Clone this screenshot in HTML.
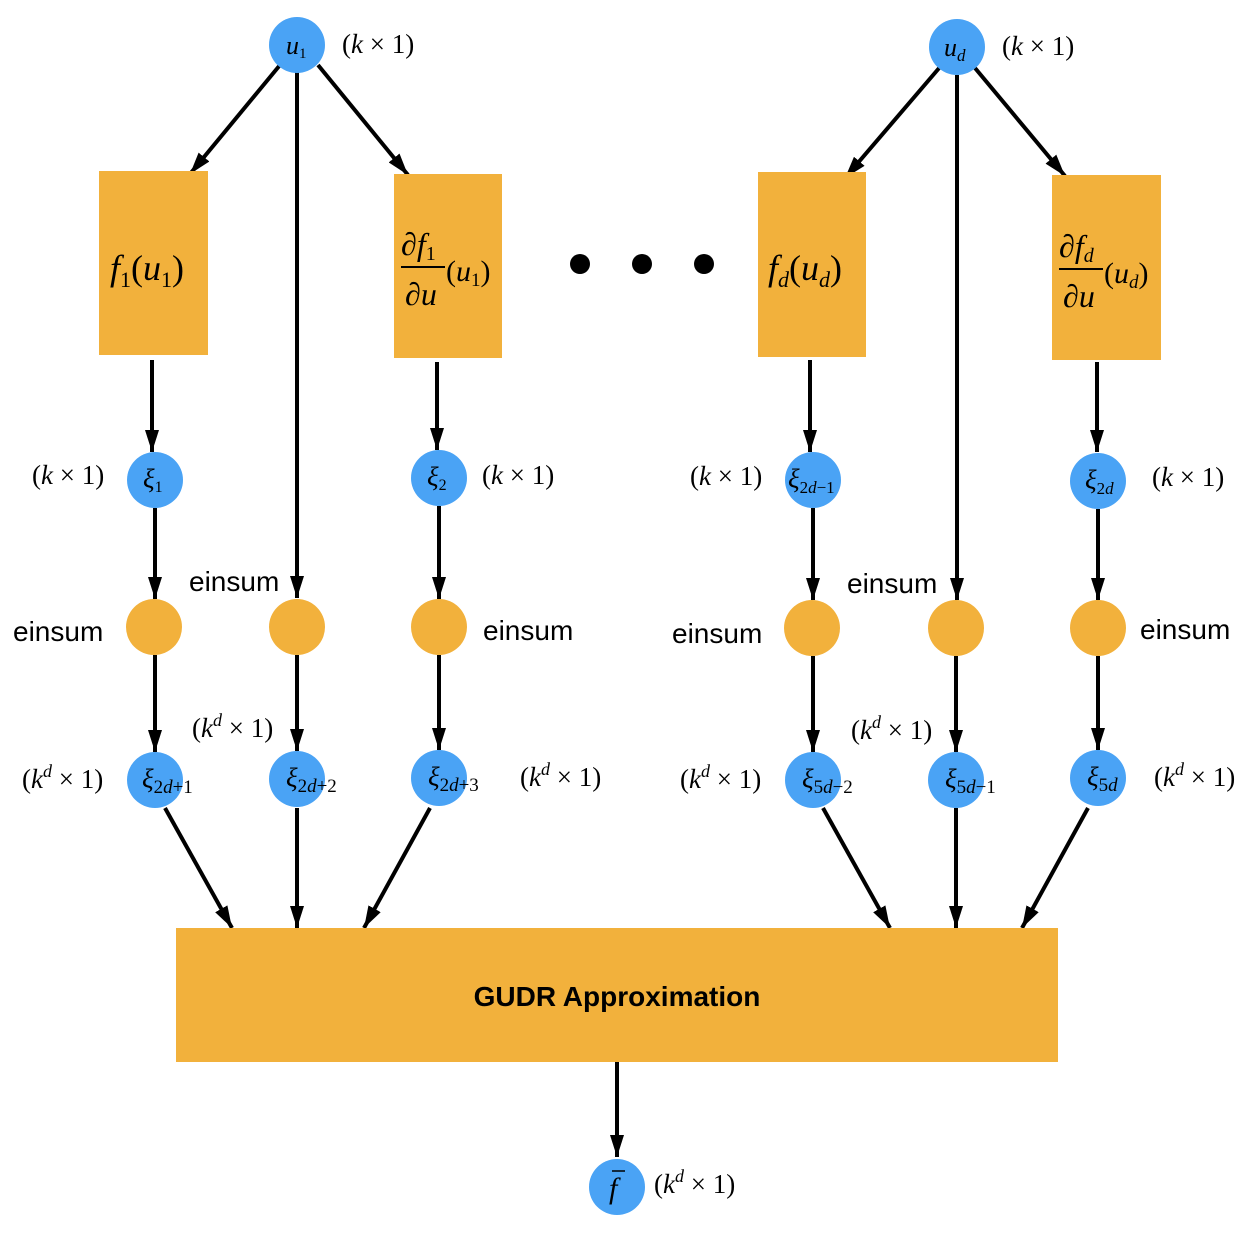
<!DOCTYPE html>
<html><head><style>
body{margin:0;background:#fff;}
svg{display:block;}
.m{font-family:"Liberation Serif",serif;font-size:27px;}
.s{font-family:"Liberation Sans",sans-serif;font-size:28px;}
.i{font-style:italic;}
</style></head><body>
<svg width="1254" height="1242" viewBox="0 0 1254 1242" xmlns="http://www.w3.org/2000/svg">
<defs>
<marker id="ah" viewBox="0 0 22 14" refX="22" refY="7" markerWidth="22" markerHeight="14" markerUnits="userSpaceOnUse" orient="auto"><path d="M0,0 L22,7 L0,14 Z" fill="#000"/></marker>
</defs>
<g stroke="#000" stroke-width="4" marker-end="url(#ah)">
<line x1="280" y1="65" x2="190" y2="174"/>
<line x1="297" y1="72" x2="297" y2="598"/>
<line x1="318" y1="65" x2="408" y2="175"/>
<line x1="940" y1="67" x2="845" y2="178"/>
<line x1="957" y1="75" x2="957" y2="600"/>
<line x1="975" y1="68" x2="1065" y2="176"/>
<line x1="152" y1="360" x2="152" y2="452"/>
<line x1="437" y1="362" x2="437" y2="450"/>
<line x1="810" y1="360" x2="810" y2="452"/>
<line x1="1097" y1="362" x2="1097" y2="452"/>
<line x1="155" y1="508" x2="155" y2="599"/>
<line x1="439" y1="506" x2="439" y2="599"/>
<line x1="813" y1="508" x2="813" y2="600"/>
<line x1="1098" y1="509" x2="1098" y2="600"/>
<line x1="155" y1="655" x2="155" y2="752"/>
<line x1="297" y1="655" x2="297" y2="751"/>
<line x1="439" y1="655" x2="439" y2="750"/>
<line x1="813" y1="656" x2="813" y2="752"/>
<line x1="956" y1="656" x2="956" y2="752"/>
<line x1="1098" y1="656" x2="1098" y2="750"/>
<line x1="165" y1="808" x2="232" y2="928"/>
<line x1="297" y1="808" x2="297" y2="928"/>
<line x1="430" y1="808" x2="364" y2="928"/>
<line x1="823" y1="808" x2="890" y2="928"/>
<line x1="956" y1="808" x2="956" y2="928"/>
<line x1="1088" y1="808" x2="1022" y2="928"/>
<line x1="617" y1="1062" x2="617" y2="1157"/>
</g>
<g fill="#f2b13c">
<rect x="99" y="171" width="109" height="184"/>
<rect x="394" y="174" width="108" height="184"/>
<rect x="758" y="172" width="108" height="185"/>
<rect x="1052" y="175" width="109" height="185"/>
<rect x="176" y="928" width="882" height="134"/>
<circle cx="154" cy="627" r="28"/><circle cx="297" cy="627" r="28"/><circle cx="439" cy="627" r="28"/>
<circle cx="812" cy="628" r="28"/><circle cx="956" cy="628" r="28"/><circle cx="1098" cy="628" r="28"/>
</g>
<g fill="#4aa3f5">
<circle cx="297" cy="45" r="28"/><circle cx="957" cy="47" r="28"/>
<circle cx="155" cy="480" r="28"/><circle cx="439" cy="478" r="28"/><circle cx="813" cy="480" r="28"/><circle cx="1098" cy="481" r="28"/>
<circle cx="155" cy="780" r="28"/><circle cx="297" cy="779" r="28"/><circle cx="439" cy="778" r="28"/>
<circle cx="813" cy="780" r="28"/><circle cx="956" cy="780" r="28"/><circle cx="1098" cy="778" r="28"/>
<circle cx="617" cy="1187" r="28"/>
</g>
<g fill="#000">
<circle cx="580" cy="264" r="10"/><circle cx="642" cy="264" r="10"/><circle cx="704" cy="264" r="10"/>
</g>
<g class="m">
<text x="286" y="54" class="i" font-size="26">u<tspan font-size="15" dy="4" font-style="normal">1</tspan></text>
<text x="944" y="56" class="i" font-size="26">u<tspan font-size="17" dy="5">d</tspan></text>
<text x="342" y="53">(<tspan class="i">k</tspan> × 1)</text>
<text x="1002" y="55">(<tspan class="i">k</tspan> × 1)</text>
<text x="110" y="280" font-size="36"><tspan class="i">f</tspan><tspan font-size="22" dy="7">1</tspan><tspan dy="-7">(</tspan><tspan class="i">u</tspan><tspan font-size="22" dy="7">1</tspan><tspan dy="-7">)</tspan></text>
<text x="768" y="280" font-size="36"><tspan class="i">f</tspan><tspan font-size="22" dy="7" class="i">d</tspan><tspan dy="-7">(</tspan><tspan class="i">u</tspan><tspan font-size="22" dy="7" class="i">d</tspan><tspan dy="-7">)</tspan></text>
<text x="401" y="255" font-size="32">∂<tspan class="i">f</tspan><tspan font-size="20" dy="5">1</tspan></text>
<line x1="401" y1="267" x2="445" y2="267" stroke="#000" stroke-width="2"/>
<text x="405" y="305" font-size="32">∂<tspan class="i">u</tspan></text>
<text x="446" y="281" font-size="30">(<tspan class="i">u</tspan><tspan font-size="19" dy="5">1</tspan><tspan dy="-5">)</tspan></text>
<text x="1059" y="257" font-size="32">∂<tspan class="i">f</tspan><tspan font-size="20" dy="5" class="i">d</tspan></text>
<line x1="1059" y1="269" x2="1103" y2="269" stroke="#000" stroke-width="2"/>
<text x="1063" y="307" font-size="32">∂<tspan class="i">u</tspan></text>
<text x="1104" y="283" font-size="30">(<tspan class="i">u</tspan><tspan font-size="19" dy="5" class="i">d</tspan><tspan dy="-5">)</tspan></text>
<text x="143" y="488" class="i">ξ<tspan font-size="16" dy="4" font-style="normal">1</tspan></text>
<text x="427" y="486" class="i">ξ<tspan font-size="16" dy="4" font-style="normal">2</tspan></text>
<text x="788" y="488" class="i">ξ<tspan font-size="17" dy="5" font-style="normal">2<tspan class="i">d</tspan>−1</tspan></text>
<text x="1085" y="489" class="i">ξ<tspan font-size="17" dy="5" font-style="normal">2<tspan class="i">d</tspan></tspan></text>
<text x="32" y="484">(<tspan class="i">k</tspan> × 1)</text>
<text x="482" y="484">(<tspan class="i">k</tspan> × 1)</text>
<text x="690" y="485">(<tspan class="i">k</tspan> × 1)</text>
<text x="1152" y="486">(<tspan class="i">k</tspan> × 1)</text>
<text x="142" y="788" class="i">ξ<tspan font-size="19" dy="5" font-style="normal">2<tspan class="i">d</tspan>+1</tspan></text>
<text x="286" y="787" class="i">ξ<tspan font-size="19" dy="5" font-style="normal">2<tspan class="i">d</tspan>+2</tspan></text>
<text x="428" y="786" class="i">ξ<tspan font-size="19" dy="5" font-style="normal">2<tspan class="i">d</tspan>+3</tspan></text>
<text x="802" y="788" class="i">ξ<tspan font-size="19" dy="5" font-style="normal">5<tspan class="i">d</tspan>−2</tspan></text>
<text x="945" y="788" class="i">ξ<tspan font-size="19" dy="5" font-style="normal">5<tspan class="i">d</tspan>−1</tspan></text>
<text x="1087" y="786" class="i">ξ<tspan font-size="19" dy="5" font-style="normal">5<tspan class="i">d</tspan></tspan></text>
<text x="22" y="788">(<tspan class="i">k</tspan><tspan font-size="18" dy="-11" class="i">d</tspan><tspan dy="11"> × 1)</tspan></text>
<text x="192" y="737">(<tspan class="i">k</tspan><tspan font-size="18" dy="-11" class="i">d</tspan><tspan dy="11"> × 1)</tspan></text>
<text x="520" y="786">(<tspan class="i">k</tspan><tspan font-size="18" dy="-11" class="i">d</tspan><tspan dy="11"> × 1)</tspan></text>
<text x="680" y="788">(<tspan class="i">k</tspan><tspan font-size="18" dy="-11" class="i">d</tspan><tspan dy="11"> × 1)</tspan></text>
<text x="851" y="739">(<tspan class="i">k</tspan><tspan font-size="18" dy="-11" class="i">d</tspan><tspan dy="11"> × 1)</tspan></text>
<text x="1154" y="786">(<tspan class="i">k</tspan><tspan font-size="18" dy="-11" class="i">d</tspan><tspan dy="11"> × 1)</tspan></text>
<text x="654" y="1193">(<tspan class="i">k</tspan><tspan font-size="18" dy="-11" class="i">d</tspan><tspan dy="11"> × 1)</tspan></text>
<text x="609" y="1198" class="i" font-size="30">f</text>
<line x1="612" y1="1171" x2="625" y2="1171" stroke="#000" stroke-width="1.5"/>
</g>
<g class="s">
<text x="13" y="641">einsum</text>
<text x="189" y="591">einsum</text>
<text x="483" y="640">einsum</text>
<text x="672" y="643">einsum</text>
<text x="847" y="593">einsum</text>
<text x="1140" y="639">einsum</text>
<text x="617" y="1006" text-anchor="middle" font-weight="bold" font-size="28">GUDR Approximation</text>
</g>
</svg>
</body></html>
